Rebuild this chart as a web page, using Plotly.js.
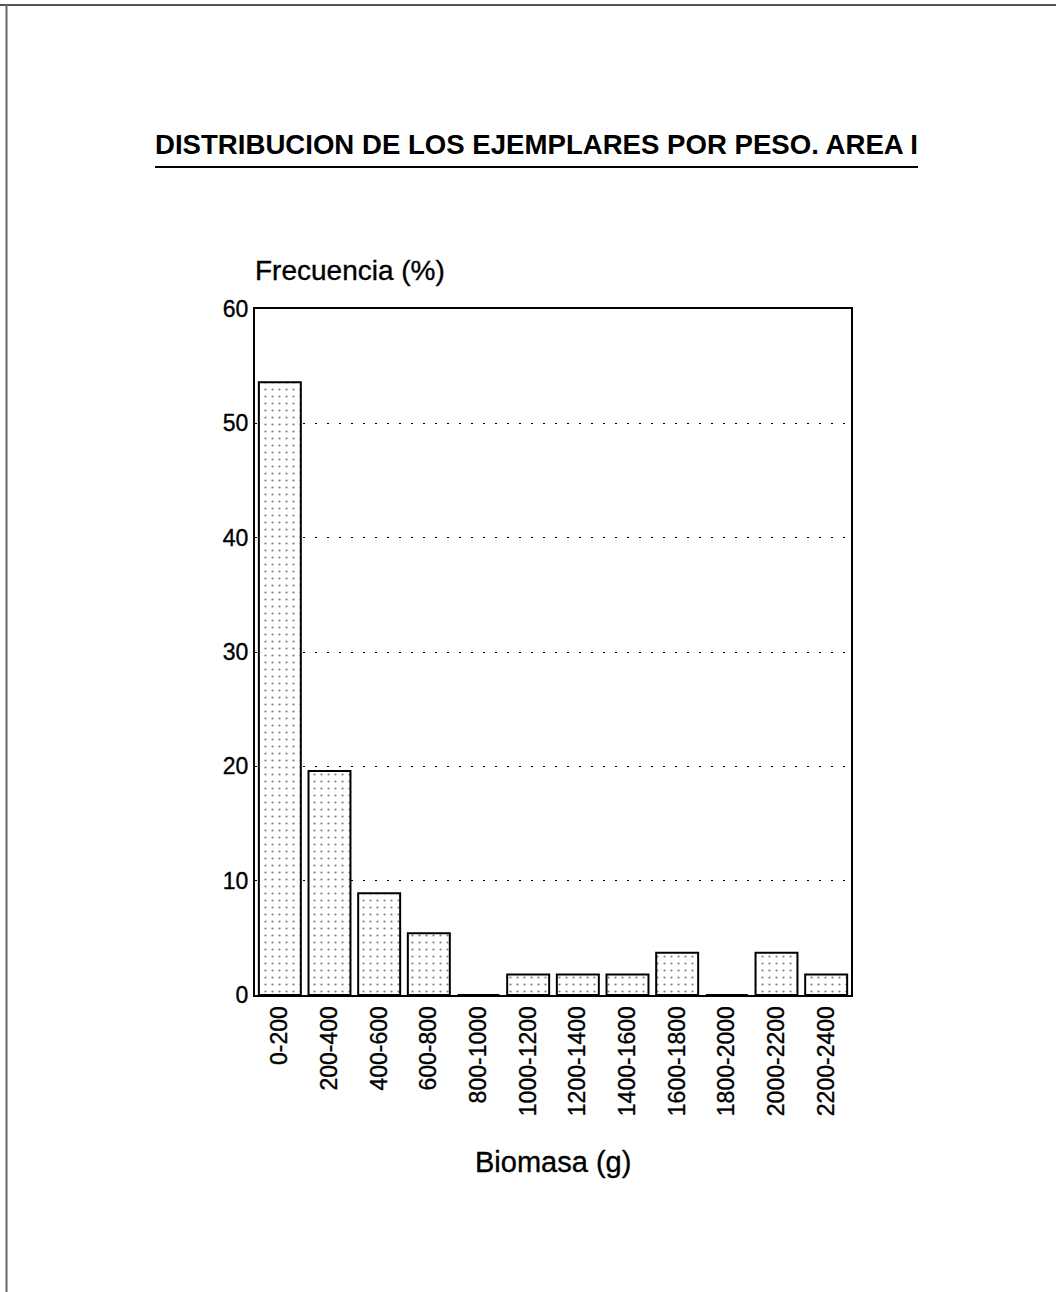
<!DOCTYPE html>
<html>
<head>
<meta charset="utf-8">
<script src="https://cdn.plot.ly/plotly-3.0.1.min.js"></script>
<style>
html,body{margin:0;padding:0;background:#fff;}
#chart{width:1056px;height:1292px;}
#chart .xtick text, #chart .ytick text, #chart .annotation-text{stroke:#000;stroke-width:0.35px;}
</style>
</head>
<body>
<div id="chart"></div>
<script>
const categories = ["0-200","200-400","400-600","600-800","800-1000","1000-1200","1200-1400","1400-1600","1600-1800","1800-2000","2000-2200","2200-2400"];
const frecuencia = [53.6, 19.6, 8.9, 5.4, 0, 1.8, 1.8, 1.8, 3.7, 0, 3.7, 1.8];
const yTicks = [0, 10, 20, 30, 40, 50, 60];

const W = 1056, H = 1292;
const L = 255, R = 851, T = 309, B = 995;
const pw = R - L, ph = B - T;
const px = x => (x - L) / pw;
const py = y => (B - y) / ph;
const FONT = "Liberation Sans, Arial, Helvetica, sans-serif";

const trace = {
  type: "bar",
  x: categories,
  y: frecuencia,
  marker: {
    color: "#ffffff",
    line: {color: "#000000", width: 2},
    pattern: {shape: ".", size: 7, solidity: 0.08, fgcolor: "#000000", bgcolor: "#ffffff", fillmode: "overlay"}
  },
  hoverinfo: "x+y"
};

const layout = {
  width: W, height: H,
  margin: {l: L, r: W - R, t: T, b: H - B, pad: 0},
  paper_bgcolor: "#ffffff",
  plot_bgcolor: "#ffffff",
  showlegend: false,
  bargap: 0.155,
  font: {family: FONT, color: "#000000", size: 23},
  title: {
    text: "DISTRIBUCION DE LOS EJEMPLARES POR PESO. AREA I",
    xref: "container", yref: "container",
    x: 155 / W, xanchor: "left",
    y: 1 - 144 / H, yanchor: "middle",
    font: {family: FONT, size: 27.6, weight: 700, color: "#000000"}
  },
  xaxis: {
    type: "category",
    showline: true, linecolor: "#000000", linewidth: 2, mirror: true,
    showgrid: false, zeroline: false,
    ticks: "",
    tickangle: -90,
    tickfont: {family: FONT, size: 23, color: "#000000"}
  },
  yaxis: {
    range: [0, 60],
    tickvals: yTicks,
    ticktext: yTicks.map(String),
    showline: true, linecolor: "#000000", linewidth: 2, mirror: true,
    showgrid: true, gridcolor: "#000000", gridwidth: 1, griddash: "2px,10px",
    zeroline: false,
    ticks: "",
    tickfont: {family: FONT, size: 23, color: "#000000"}
  },
  annotations: [
    {text: "Frecuencia (%)", xref: "paper", yref: "paper", x: px(253), y: py(270),
     xanchor: "left", yanchor: "middle", showarrow: false,
     font: {family: FONT, size: 28, color: "#000000"}},
    {text: "Biomasa (g)", xref: "paper", yref: "paper", x: 0.5, y: py(1162),
     xanchor: "center", yanchor: "middle", showarrow: false,
     font: {family: FONT, size: 29, color: "#000000"}}
  ],
  shapes: [
    {type: "line", xref: "paper", yref: "paper", x0: px(155), x1: px(918), y0: py(167), y1: py(167),
     line: {color: "#000000", width: 2}},
    {type: "line", xref: "paper", yref: "paper", x0: px(0), x1: px(W), y0: py(5), y1: py(5),
     line: {color: "#555555", width: 2}},
    {type: "line", xref: "paper", yref: "paper", x0: px(6.5), x1: px(6.5), y0: py(4), y1: py(H),
     line: {color: "#666666", width: 2}}
  ]
};

Plotly.newPlot("chart", [trace], layout, {displayModeBar: false, staticPlot: true});
</script>
</body>
</html>
